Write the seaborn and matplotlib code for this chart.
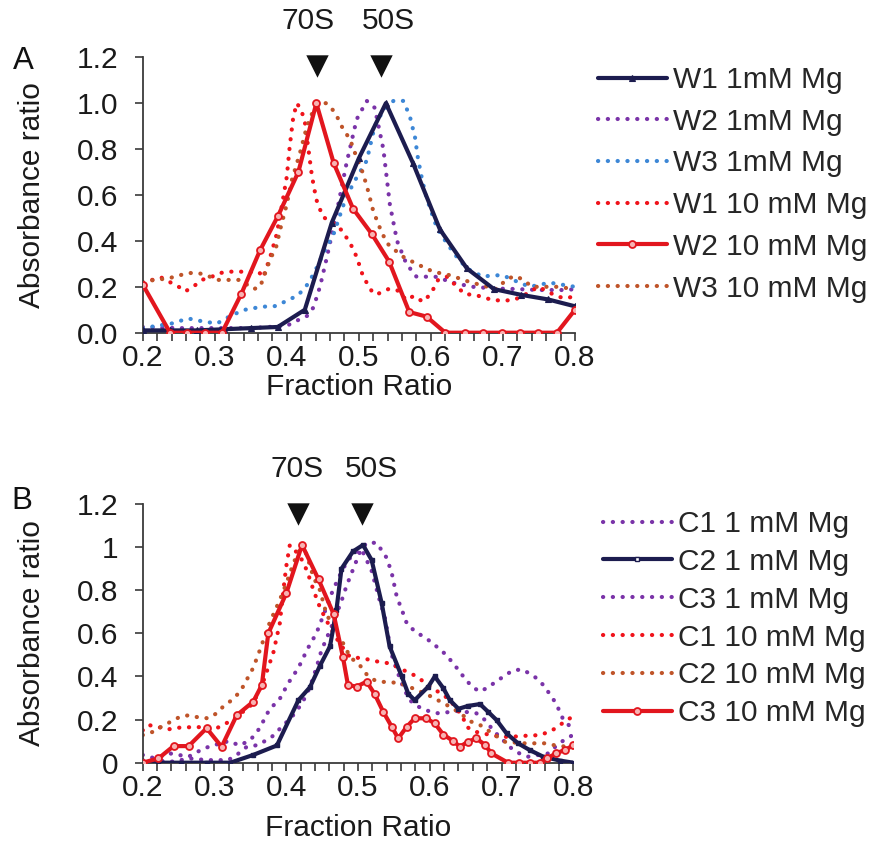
import matplotlib
matplotlib.use("Agg")
import matplotlib.pyplot as plt
import matplotlib.lines as mlines
import pandas as pd
import seaborn as sns

sns.set_theme(style="white")
plt.rcParams["font.family"] = ["Liberation Sans", "DejaVu Sans"]
FS = 21.5

# ---------------- Panel A: W samples ----------------
w1_1mM_x = [0.2, 0.2375, 0.275, 0.3125, 0.35, 0.3875, 0.425, 0.4625, 0.5, 0.5375,
            0.575, 0.6125, 0.65, 0.6875, 0.725, 0.7625, 0.8]
w1_1mM_y = [0.01, 0.01, 0.01, 0.015, 0.02, 0.025, 0.1, 0.48, 0.76, 1.0,
            0.74, 0.45, 0.28, 0.19, 0.165, 0.145, 0.115]

w2_1mM_x = [0.2, 0.25, 0.3, 0.35, 0.4, 0.411, 0.428, 0.437, 0.446, 0.455, 0.469, 0.483,
            0.497, 0.511, 0.522, 0.534, 0.543, 0.553, 0.566, 0.58, 0.606, 0.634, 0.658,
            0.686, 0.72, 0.75, 0.788, 0.8]
w2_1mM_y = [0.025, 0.02, 0.02, 0.02, 0.03, 0.048, 0.073, 0.11, 0.2, 0.32, 0.52, 0.74,
            0.93, 1.01, 0.98, 0.80, 0.56, 0.40, 0.30, 0.244, 0.244, 0.215, 0.2,
            0.193, 0.19, 0.186, 0.186, 0.19]

w3_1mM_x = [0.2, 0.22, 0.24, 0.263, 0.282, 0.303, 0.324, 0.342, 0.365, 0.384, 0.402,
            0.416, 0.43, 0.441, 0.453, 0.465, 0.479, 0.492, 0.511, 0.522, 0.534, 0.548,
            0.562, 0.571, 0.578, 0.582, 0.587, 0.592, 0.599, 0.608, 0.622, 0.636, 0.65,
            0.672, 0.686, 0.7, 0.714, 0.737, 0.765, 0.8]
w3_1mM_y = [0.02, 0.03, 0.04, 0.062, 0.05, 0.04, 0.077, 0.1, 0.113, 0.116, 0.142,
            0.164, 0.215, 0.28, 0.36, 0.43, 0.56, 0.65, 0.75, 0.9, 0.97, 1.01,
            1.01, 0.94, 0.85, 0.76, 0.68, 0.61, 0.54, 0.46, 0.39, 0.33, 0.28,
            0.244, 0.25, 0.25, 0.23, 0.2, 0.218, 0.2]

w1_10mM_x = [0.2, 0.226, 0.25, 0.259, 0.27, 0.282, 0.296, 0.307, 0.321, 0.335, 0.35,
             0.361, 0.367, 0.377, 0.386, 0.393, 0.4, 0.404, 0.409, 0.414, 0.42, 0.425,
             0.43, 0.435, 0.441, 0.45, 0.465, 0.476, 0.488, 0.497, 0.506, 0.52, 0.527,
             0.541, 0.553, 0.566, 0.576, 0.589, 0.6, 0.61, 0.622, 0.647, 0.661, 0.686,
             0.7, 0.714, 0.726, 0.749, 0.776, 0.788, 0.8]
w1_10mM_y = [0.22, 0.24, 0.2, 0.18, 0.2, 0.23, 0.244, 0.26, 0.266, 0.266, 0.265,
             0.266, 0.24, 0.33, 0.43, 0.55, 0.68, 0.81, 0.94, 1.0, 0.97, 0.92,
             0.8, 0.68, 0.58, 0.505, 0.476, 0.447, 0.39, 0.33, 0.244, 0.17, 0.17,
             0.19, 0.186, 0.142, 0.16, 0.135, 0.17, 0.23, 0.244, 0.168, 0.165, 0.142,
             0.14, 0.142, 0.157, 0.2, 0.157, 0.15, 0.16]

w2_10mM_x = [0.2, 0.238, 0.262, 0.287, 0.31, 0.337, 0.363, 0.388, 0.416, 0.441, 0.465,
             0.492, 0.518, 0.542, 0.57, 0.594, 0.62, 0.647, 0.673, 0.698, 0.724, 0.749,
             0.775, 0.8]
w2_10mM_y = [0.21, 0.0, 0.0, 0.0, 0.0, 0.17, 0.36, 0.51, 0.70, 1.0, 0.74,
             0.54, 0.43, 0.31, 0.09, 0.07, 0.0, 0.0, 0.0, 0.0, 0.0, 0.0,
             0.0, 0.10]

w3_10mM_x = [0.2, 0.21, 0.236, 0.263, 0.277, 0.289, 0.303, 0.317, 0.335, 0.354, 0.363,
             0.377, 0.386, 0.39, 0.4, 0.407, 0.418, 0.428, 0.437, 0.446, 0.455, 0.467,
             0.476, 0.488, 0.495, 0.504, 0.511, 0.52, 0.53, 0.539, 0.55, 0.562, 0.58,
             0.603, 0.627, 0.65, 0.672, 0.691, 0.705, 0.716, 0.728, 0.74, 0.775, 0.8]
w3_10mM_y = [0.22, 0.227, 0.237, 0.26, 0.26, 0.25, 0.23, 0.23, 0.23, 0.19, 0.2,
             0.32, 0.38, 0.44, 0.56, 0.665, 0.78, 0.9, 0.97, 1.0, 1.0, 0.96,
             0.9, 0.84, 0.78, 0.71, 0.64, 0.53, 0.45, 0.39, 0.36, 0.33, 0.3,
             0.266, 0.25, 0.225, 0.205, 0.19, 0.232, 0.247, 0.232, 0.2, 0.2, 0.19]

# ---------------- Panel B: C samples ----------------
c1_1mM_x = [0.2, 0.217, 0.243, 0.265, 0.289, 0.305, 0.319, 0.331, 0.345, 0.361, 0.38,
            0.394, 0.408, 0.422, 0.433, 0.442, 0.449, 0.463, 0.477, 0.484, 0.503, 0.512,
            0.526, 0.54, 0.547, 0.554, 0.561, 0.568, 0.579, 0.591, 0.602, 0.623, 0.64,
            0.649, 0.658, 0.669, 0.681, 0.692, 0.703, 0.715, 0.728, 0.739, 0.751, 0.76,
            0.768, 0.776, 0.786, 0.795, 0.8]
c1_1mM_y = [0.012, 0.01, 0.005, 0.02, 0.012, 0.012, 0.012, 0.036, 0.074, 0.082, 0.12,
            0.167, 0.213, 0.275, 0.35, 0.44, 0.52, 0.63, 0.75, 0.82, 0.98, 1.02,
            1.02, 0.95, 0.88, 0.77, 0.71, 0.646, 0.61, 0.585, 0.56, 0.5, 0.43,
            0.39, 0.356, 0.33, 0.348, 0.376, 0.4, 0.427, 0.433, 0.414, 0.387, 0.353,
            0.314, 0.275, 0.2, 0.17, 0.2]

c2_1mM_x = [0.2, 0.222, 0.254, 0.289, 0.322, 0.354, 0.387, 0.417, 0.433, 0.447, 0.461,
            0.47, 0.477, 0.493, 0.507, 0.519, 0.533, 0.544, 0.561, 0.57, 0.579, 0.598,
            0.607, 0.619, 0.628, 0.64, 0.653, 0.67, 0.681, 0.693, 0.707, 0.723, 0.739,
            0.758, 0.781, 0.8]
c2_1mM_y = [0.0, 0.0, 0.0, 0.0, 0.0, 0.036, 0.08, 0.29, 0.35, 0.45, 0.54,
            0.71, 0.9, 0.98, 1.01, 0.94, 0.74, 0.54, 0.4, 0.32, 0.29, 0.353,
            0.4, 0.345, 0.29, 0.25, 0.263, 0.272, 0.237, 0.198, 0.136, 0.09, 0.059,
            0.028, 0.01, 0.0]

c3_1mM_x = [0.2, 0.217, 0.238, 0.264, 0.285, 0.3, 0.32, 0.335, 0.35, 0.363, 0.377,
            0.39, 0.403, 0.417, 0.43, 0.442, 0.456, 0.465, 0.479, 0.493, 0.505, 0.519,
            0.53, 0.537, 0.547, 0.554, 0.563, 0.572, 0.584, 0.598, 0.612, 0.64, 0.665,
            0.677, 0.69, 0.714, 0.725, 0.737, 0.765, 0.78, 0.8]
c3_1mM_y = [0.036, 0.02, 0.043, 0.028, 0.066, 0.082, 0.1, 0.08, 0.105, 0.16, 0.25,
            0.29, 0.37, 0.44, 0.53, 0.6, 0.72, 0.8, 0.9, 0.97, 0.99, 0.89,
            0.755, 0.68, 0.5, 0.43, 0.35, 0.29, 0.26, 0.24, 0.229, 0.24, 0.229,
            0.198, 0.144, 0.066, 0.043, 0.028, 0.043, 0.09, 0.13]

c1_10mM_x = [0.2, 0.208, 0.236, 0.254, 0.28, 0.303, 0.315, 0.33, 0.354, 0.368, 0.382,
             0.391, 0.396, 0.4, 0.405, 0.419, 0.429, 0.438, 0.447, 0.456, 0.466, 0.475,
             0.489, 0.507, 0.526, 0.545, 0.563, 0.582, 0.6, 0.619, 0.628, 0.646, 0.651,
             0.663, 0.674, 0.698, 0.714, 0.728, 0.753, 0.767, 0.779, 0.79, 0.8]
c1_10mM_y = [0.15, 0.175, 0.155, 0.164, 0.165, 0.16, 0.18, 0.21, 0.275, 0.376, 0.51,
             0.646, 0.8, 0.91, 1.01, 0.96, 0.89, 0.8, 0.72, 0.66, 0.6, 0.55,
             0.49, 0.484, 0.47, 0.46, 0.43, 0.4, 0.353, 0.314, 0.29, 0.213, 0.167,
             0.144, 0.136, 0.12, 0.12, 0.124, 0.128, 0.144, 0.167, 0.198, 0.213]

c2_10mM_x = [0.2, 0.215, 0.226, 0.252, 0.264, 0.278, 0.291, 0.303, 0.312, 0.324, 0.336,
             0.354, 0.363, 0.377, 0.391, 0.4, 0.41, 0.419, 0.428, 0.438, 0.447, 0.456,
             0.468, 0.48, 0.489, 0.503, 0.512, 0.523, 0.535, 0.558, 0.58, 0.6, 0.628,
             0.64, 0.658, 0.67, 0.69, 0.705, 0.732, 0.76, 0.772, 0.8]
c2_10mM_y = [0.128, 0.144, 0.167, 0.213, 0.22, 0.21, 0.206, 0.229, 0.26, 0.29, 0.33,
             0.44, 0.52, 0.65, 0.755, 0.83, 0.925, 0.99, 0.97, 0.86, 0.8, 0.69,
             0.615, 0.55, 0.49, 0.45, 0.41, 0.383, 0.375, 0.37, 0.34, 0.31, 0.26,
             0.235, 0.19, 0.175, 0.13, 0.097, 0.09, 0.09, 0.082, 0.07]

c3_10mM_x = [0.2, 0.222, 0.243, 0.264, 0.289, 0.31, 0.331, 0.354, 0.366, 0.375, 0.4,
             0.422, 0.445, 0.466, 0.479, 0.486, 0.498, 0.512, 0.523, 0.535, 0.547, 0.556,
             0.568, 0.579, 0.595, 0.607, 0.619, 0.633, 0.642, 0.653, 0.665, 0.677, 0.686,
             0.709, 0.725, 0.739, 0.753, 0.763, 0.776, 0.788, 0.8]
c3_10mM_y = [0.0, 0.02, 0.077, 0.077, 0.16, 0.074, 0.22, 0.283, 0.36, 0.6, 0.785,
             1.01, 0.85, 0.69, 0.49, 0.36, 0.353, 0.376, 0.32, 0.237, 0.167, 0.113,
             0.167, 0.206, 0.206, 0.182, 0.13, 0.1, 0.074, 0.097, 0.113, 0.082, 0.043,
             0.0, 0.0, 0.0, 0.0, 0.02, 0.043, 0.059, 0.08]

# Peak annotations
peak_labels = ["70S", "50S"]
peaks_A = [0.4415, 0.531]
peak_text_A = [0.43, 0.5405]
peaks_B = [0.4164, 0.5056]
peak_text_B = [0.415, 0.519]

x_ticks = [0.2, 0.3, 0.4, 0.5, 0.6, 0.7, 0.8]
y_ticks = [0.0, 0.2, 0.4, 0.6, 0.8, 1.0, 1.2]
y_labels_A = ["0.0", "0.2", "0.4", "0.6", "0.8", "1.0", "1.2"]
y_labels_B = ["0", "0.2", "0.4", "0.6", "0.8", "1", "1.2"]

NAVY = "#1c1c4f"
PURPLE = "#7a33a8"
BLUE = "#3d87d6"
RED_DOT = "#f0131b"
RED = "#e2161e"
BROWN = "#bf5429"

DOT = (0, (0.05, 2.3))
solid_kw = dict(linestyle="-", linewidth=3.0)
dot_kw = dict(linestyle=DOT, linewidth=3.0, dash_capstyle="round")

panel_A = [
    ("W1 1mM Mg", w1_1mM_x, w1_1mM_y, NAVY, "solid", "^"),
    ("W2 1mM Mg", w2_1mM_x, w2_1mM_y, PURPLE, "dot", None),
    ("W3 1mM Mg", w3_1mM_x, w3_1mM_y, BLUE, "dot", None),
    ("W1 10 mM Mg", w1_10mM_x, w1_10mM_y, RED_DOT, "dot", None),
    ("W2 10 mM Mg", w2_10mM_x, w2_10mM_y, RED, "solid", "o"),
    ("W3 10 mM Mg", w3_10mM_x, w3_10mM_y, BROWN, "dot", None),
]
panel_B = [
    ("C1 1 mM Mg", c1_1mM_x, c1_1mM_y, PURPLE, "dot", None),
    ("C2 1 mM Mg", c2_1mM_x, c2_1mM_y, NAVY, "solid", "s"),
    ("C3 1 mM Mg", c3_1mM_x, c3_1mM_y, PURPLE, "dot", None),
    ("C1 10 mM Mg", c1_10mM_x, c1_10mM_y, RED_DOT, "dot", None),
    ("C2 10 mM Mg", c2_10mM_x, c2_10mM_y, BROWN, "dot", None),
    ("C3 10 mM Mg", c3_10mM_x, c3_10mM_y, RED, "solid", "o"),
]

W, H = 877, 858
fig = plt.figure(figsize=(W / 100, H / 100), dpi=100)


def px_rect(x0, y0, x1, y1):
    return [x0 / W, 1 - y1 / H, (x1 - x0) / W, (y1 - y0) / H]


ax_a = fig.add_axes(px_rect(142.7, 57.3, 575.0, 332.7))
ax_b = fig.add_axes(px_rect(142.7, 504.0, 573.3, 762.7))


def style_kwargs(color, kind, marker, legend=False):
    kw = dict(solid_kw if kind == "solid" else dot_kw)
    kw["color"] = color
    if marker is not None:
        if marker == "o":
            kw.update(marker="o", markersize=5.0, markerfacecolor="#f7b3b3",
                      markeredgecolor=color, markeredgewidth=1.3)
        elif marker == "^":
            kw.update(marker="^", markersize=5, markerfacecolor=color,
                      markeredgecolor=color, markeredgewidth=0.8)
        else:
            kw.update(marker="s", markersize=3.5,
                      markerfacecolor="white" if legend else color,
                      markeredgecolor=color, markeredgewidth=1.0)
    return kw


def draw_panel(ax, series, ylabels, letter, letter_xy, peaks, peak_text,
               tri_y, text_y, xlabelpad):
    handles = {}
    # dotted traces underneath, solid traces on top
    order = [s for s in series if s[4] == "dot"] + [s for s in series if s[4] == "solid"]
    for label, xs, ys, color, kind, marker in order:
        df = pd.DataFrame({"Fraction": xs, "Absorbance": ys})
        kw = style_kwargs(color, kind, marker)
        sns.lineplot(data=df, x="Fraction", y="Absorbance", ax=ax, sort=False,
                     estimator=None, zorder=3 if kind == "solid" else 2, **kw)
        handles[label] = mlines.Line2D([], [], **style_kwargs(color, kind, marker, True))

    ax.set_xlim(0.2, 0.8)
    ax.set_ylim(0, 1.2)
    ax.set_xticks(x_ticks)
    ax.set_xticklabels([f"{t:.1f}" for t in x_ticks])
    ax.set_xticks([0.2 + 0.02 * i for i in range(31)], minor=True)
    ax.set_yticks(y_ticks)
    ax.set_yticklabels(ylabels)
    for side in ("top", "right"):
        ax.spines[side].set_visible(False)
    for side in ("left", "bottom"):
        ax.spines[side].set_color("#3a3a3a")
        ax.spines[side].set_linewidth(1.3)
    ax.tick_params(axis="both", which="both", direction="out", color="#3a3a3a",
                   width=1.2, length=5.5, labelsize=FS, colors="#1a1a1a")
    ax.tick_params(axis="y", pad=12, left=True)
    ax.tick_params(axis="x", which="both", pad=2.5, bottom=True)
    ax.set_xlabel("Fraction Ratio", fontsize=FS, color="#1a1a1a", labelpad=xlabelpad)
    ax.set_ylabel("Absorbance ratio", fontsize=FS, color="#1a1a1a", labelpad=22)
    ax.grid(False)

    # sedimentation peak markers
    trans = ax.get_xaxis_transform()
    ax.scatter(peaks, [tri_y] * len(peaks), marker="v", s=260, color="#111111",
               transform=trans, clip_on=False, zorder=5, linewidths=0)
    for lab, xt in zip(peak_labels, peak_text):
        ax.text(xt, text_y, lab, transform=trans, ha="center", va="center",
                fontsize=FS, color="#1a1a1a")

    ax.text(letter_xy[0], letter_xy[1], letter, transform=ax.transAxes,
            fontsize=FS + 1, ha="center", va="center", color="#111111")

    labels = [s[0] for s in series]
    return [handles[l] for l in labels], labels


h_a, l_a = draw_panel(ax_a, panel_A, y_labels_A, "A", (-0.276, 0.987),
                      peaks_A, peak_text_A, 0.968, 1.13, 0.5)
h_b, l_b = draw_panel(ax_b, panel_B, y_labels_B, "B", (-0.28, 1.012),
                      peaks_B, peak_text_B, 0.961, 1.135, 9)

fig.legend(h_a, l_a, loc="upper left", bbox_to_anchor=(598 / W, 1 - 66 / H),
           frameon=False, fontsize=FS, handlelength=2.3, handletextpad=0.2,
           labelspacing=0.46, borderpad=0, borderaxespad=0)
fig.legend(h_b, l_b, loc="upper left", bbox_to_anchor=(603 / W, 1 - 510 / H),
           frameon=False, fontsize=FS, handlelength=2.3, handletextpad=0.2,
           labelspacing=0.33, borderpad=0, borderaxespad=0)

fig.savefig("out.png", dpi=100)
